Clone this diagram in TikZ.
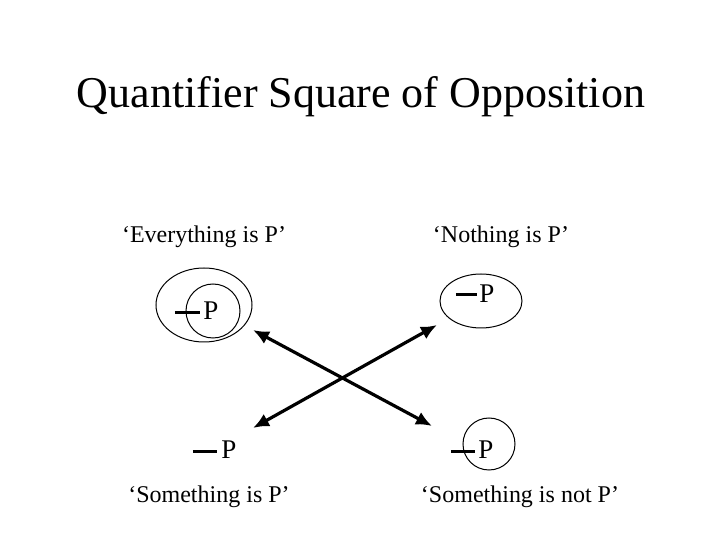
\documentclass[tikz,border=0pt]{standalone}
\usepackage{fontspec}
\setmainfont{Liberation Serif}
\usetikzlibrary{arrows.meta,shapes.geometric}
\tikzset{
  lbl/.style={font=\fontsize{12}{14}\selectfont, anchor=base, inner sep=0pt},
  pletter/.style={font=\fontsize{13.5}{15}\selectfont, anchor=base west, inner sep=0pt},
  dashbar/.style={line width=1.5pt},
  ring/.style={draw, line width=0.5pt, ellipse, inner sep=0pt},
  bigarrow/.style={line width=1.6pt, {Latex[length=8pt,width=7pt]}-{Latex[length=8pt,width=7pt]}}
}
\begin{document}
\begin{tikzpicture}[x=0.5pt,y=-0.5pt]
\useasboundingbox (0,0) rectangle (720,540);
% title
\node[font=\fontsize{22}{24}\selectfont, anchor=base, inner sep=0pt] (title) at (361,108) {Quantifier Square of Opposition};
% corner labels
\node[lbl] (lA) at (204,243) {‘Everything is P’};
\node[lbl] (lE) at (501,243) {‘Nothing is P’};
\node[lbl] (lI) at (209,503) {‘Something is P’};
\node[lbl] (lO) at (520,503) {‘Something is not P’};
% top-left diagram
\node[ring, minimum width=48pt, minimum height=37pt] (eA) at (204,305) {};
\node[ring, circle, minimum size=27pt] (cA) at (213,311) {};
\coordinate (dA1) at (175,313); \coordinate (dA2) at (200,313);
\draw[dashbar] (dA1) -- (dA2);
\node[pletter] (pA) at (203,320) {P};
% top-right diagram
\node[ring, minimum width=41pt, minimum height=27pt] (eE) at (481,301) {};
\coordinate (dE1) at (456,295); \coordinate (dE2) at (477,295);
\draw[dashbar] (dE1) -- (dE2);
\node[pletter] (pE) at (479,303) {P};
% bottom-left diagram
\coordinate (dI1) at (193,452); \coordinate (dI2) at (217,452);
\draw[dashbar] (dI1) -- (dI2);
\node[pletter] (pI) at (221,459) {P};
% bottom-right diagram
\node[ring, circle, minimum size=26pt] (cO) at (489,444) {};
\coordinate (dO1) at (451,452); \coordinate (dO2) at (475,452);
\draw[dashbar] (dO1) -- (dO2);
\node[pletter] (pO) at (478,459) {P};
% contradictory arrows
\coordinate (a1) at (253,330); \coordinate (a2) at (432,426);
\coordinate (b1) at (253,428); \coordinate (b2) at (437,325);
\draw[bigarrow] (a1) -- (a2);
\draw[bigarrow] (b1) -- (b2);
\end{tikzpicture}
\end{document}
